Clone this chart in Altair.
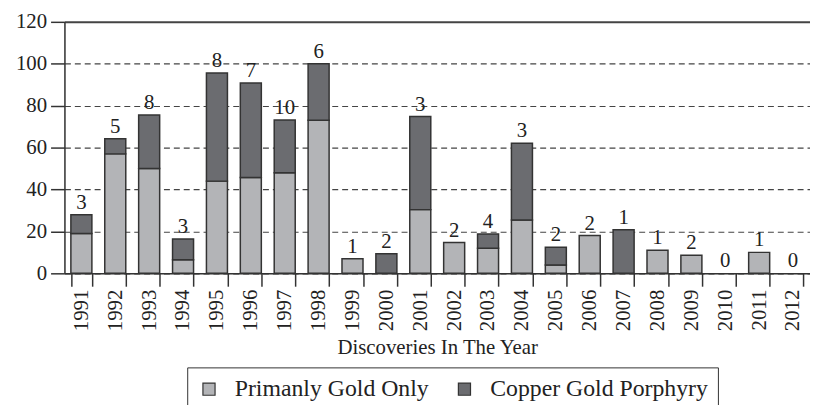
import altair as alt
import pandas as pd

years = [str(y) for y in range(1991, 2013)]
gold = [19, 57, 50, 6.5, 44, 45.7, 48, 73, 7, 0, 30.4, 14.7, 12, 25.4, 4, 18, 0, 11, 8.6, 0, 10, 0]
copper = [9, 7.2, 25.6, 9.9, 51.6, 45.1, 25.2, 27, 0, 9.4, 44.4, 0, 6.8, 36.7, 8.4, 0, 20.8, 0, 0, 0, 0, 0]
counts = [3, 5, 8, 3, 8, 7, 10, 6, 1, 2, 3, 2, 4, 3, 2, 2, 1, 1, 2, 0, 1, 0]
series = ["Primanly Gold Only", "Copper Gold Porphyry"]
colors = ["#b3b4b7", "#6b6c70"]
y_ticks = [0, 20, 40, 60, 80, 100, 120]

rows = []
for i, yr in enumerate(years):
    rows.append({"year": yr, "series": series[0], "value": gold[i], "order": 0})
    rows.append({"year": yr, "series": series[1], "value": copper[i], "order": 1})
bars_df = pd.DataFrame(rows)
labels_df = pd.DataFrame({
    "year": years,
    "total": [g + c for g, c in zip(gold, copper)],
    "count": counts,
})

FONT = "Liberation Serif"
TXT = "#222222"
LINE = "#333333"

x_enc = alt.X(
    "year:N",
    sort=years,
    scale=alt.Scale(paddingInner=0.38, paddingOuter=0.19),
    axis=alt.Axis(
        title="Discoveries In The Year",
        labelAngle=-90,
        tickBand="extent",
        labelFont=FONT,
        labelFontSize=21,
        labelColor=TXT,
        labelPadding=3,
        tickSize=13,
        tickColor=LINE,
        tickWidth=1.5,
        domainColor=LINE,
        domainWidth=1.5,
        titleFont=FONT,
        titleFontSize=21,
        titleFontWeight="normal",
        titleColor=TXT,
        titlePadding=6,
    ),
)

y_axis = alt.Axis(
    title=None,
    values=y_ticks,
    labelFont=FONT,
    labelFontSize=21,
    labelColor=TXT,
    labelPadding=4,
    tickSize=14,
    tickColor=LINE,
    tickWidth=1.5,
    domainColor=LINE,
    domainWidth=1.5,
    grid=True,
    gridColor="#444444",
    gridDash=alt.condition("datum.value == 120", alt.value([]), alt.value([6, 4])),
    gridWidth=alt.condition("datum.value == 120", alt.value(2), alt.value(1.2)),
)

bars = alt.Chart(bars_df).transform_filter("datum.value > 0").mark_bar(
    stroke=LINE, strokeWidth=1.5
).encode(
    x=x_enc,
    y=alt.Y("value:Q", stack="zero", scale=alt.Scale(domain=[0, 120]), axis=y_axis),
    color=alt.Color(
        "series:N",
        scale=alt.Scale(domain=series, range=colors),
        legend=alt.Legend(
            title=None,
            orient="none",
            legendX=124,
            legendY=349,
            direction="horizontal",
            symbolType="square",
            symbolSize=150,
            symbolStrokeColor=LINE,
            symbolStrokeWidth=1.2,
            labelFont=FONT,
            labelFontSize=24,
            labelColor=TXT,
            labelLimit=0,
            labelOffset=14,
            columnPadding=24,
            strokeColor=LINE,
            fillColor="white",
            padding=10,
        ),
    ),
    order=alt.Order("order:Q"),
)

labels = alt.Chart(labels_df).mark_text(
    font=FONT, fontSize=21, baseline="bottom", dy=-2, color=TXT
).encode(
    x=alt.X("year:N", sort=years),
    y=alt.Y("total:Q"),
    text=alt.Text("count:Q"),
)

chart = alt.layer(bars, labels).properties(
    width=753,
    height=254,
    autosize=alt.AutoSizeParams(type="none"),
    padding={"left": 57, "top": 12, "right": 0, "bottom": 131},
).configure_view(
    fill="#f0f1f3", stroke="transparent"
).configure(font=FONT)

chart.save("out.html", embed_options={"renderer": "svg", "actions": False})
